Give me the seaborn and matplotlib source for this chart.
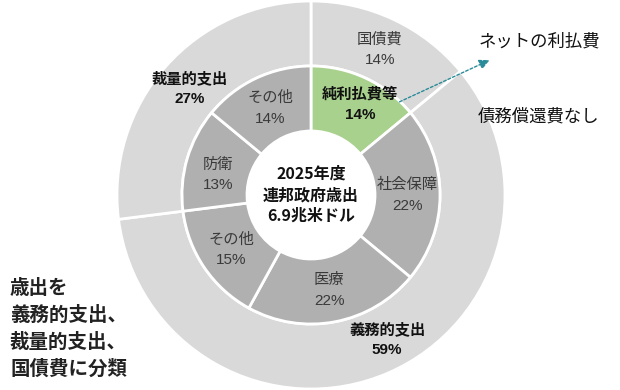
import numpy as np
import matplotlib
matplotlib.use("Agg")
import matplotlib.pyplot as plt
import seaborn as sns

sns.set_style("white")
plt.rcParams['font.family'] = ['Noto Sans CJK JP', 'DejaVu Sans']

# outer ring (clockwise from top)
outer_labels = ['国債費', '義務的支出', '裁量的支出']
outer_values = [14, 59, 27]
outer_bold = [False, True, True]

# inner ring (clockwise from top)
inner_labels = ['純利払費等', '社会保障', '医療', 'その他', '防衛', 'その他']
inner_values = [14, 22, 22, 15, 13, 14]
inner_bold = [True, False, False, False, False, False]

center_text = ['2025年度', '連邦政府歳出', '6.9兆米ドル']
side_text = ['歳出を', '義務的支出、', '裁量的支出、', '国債費に分類']

OUTER_C = '#d9d9d9'
INNER_C = '#b0b0b0'
GREEN = '#a9d18e'
TXT = '#3a3a3a'

cx, cy = 311, 195
r_out, r_mid, r_in = 194, 129, 64

fig = plt.figure(figsize=(6.2, 3.9), dpi=100)
ax = fig.add_axes([0, 0, 1, 1])

w_out, _ = ax.pie(outer_values, radius=r_out, center=(cx, cy), startangle=90,
                  counterclock=False, colors=[OUTER_C] * len(outer_values),
                  wedgeprops=dict(width=r_out - r_mid, edgecolor='white', linewidth=2))
w_in, _ = ax.pie(inner_values, radius=r_mid, center=(cx, cy), startangle=90,
                 counterclock=False, colors=[GREEN] + [INNER_C] * (len(inner_values) - 1),
                 wedgeprops=dict(width=r_mid - r_in, edgecolor='white', linewidth=2))

ax.set_xlim(0, 620)
ax.set_ylim(0, 390)
ax.set_aspect('equal')
ax.axis('off')

# small label nudges (px)
nudge_out = {1: (12, 4)}
nudge_in = {0: (8, 4), 4: (0, -6)}


def put_labels(wedges, labels, values, bold, rad, nudge):
    for i, (w, lab, v, b) in enumerate(zip(wedges, labels, values, bold)):
        mid = np.deg2rad((w.theta1 + w.theta2) / 2)
        dx, dy = nudge.get(i, (0, 0))
        x = cx + rad * np.cos(mid) + dx
        y = cy + rad * np.sin(mid) + dy
        fw = 'bold' if b else 'normal'
        col = '#111111' if b else TXT
        ax.text(x, y + 10, lab, ha='center', va='center', fontsize=11, fontweight=fw, color=col)
        ax.text(x, y - 11, f'{v}%', ha='center', va='center', fontsize=11, fontweight=fw, color=col,
                family=['Arial', 'Liberation Sans', 'DejaVu Sans'])


put_labels(w_out, outer_labels, outer_values, outer_bold, (r_out + r_mid) / 2, nudge_out)
put_labels(w_in, inner_labels, inner_values, inner_bold, (r_mid + r_in) / 2, nudge_in)

for k, t in enumerate(center_text):
    ax.text(cx, cy + 21 - 21 * k, t, ha='center', va='center', fontsize=11.5,
            fontweight='bold', color='#111111')

# annotation on the right
ax.annotate('', xy=(492, 390 - 59), xytext=(397, 390 - 103),
            arrowprops=dict(arrowstyle='-|>,head_length=0.6,head_width=0.3',
                            color='#2a8c99', linestyle=(0, (2, 1.5)), linewidth=1))
ax.text(539, 390 - 42, 'ネットの利払費', ha='center', va='center', fontsize=12.5, color='#111111')
ax.text(539, 390 - 117, '債務償還費なし', ha='center', va='center', fontsize=12.5, color='#111111')

for k, t in enumerate(side_text):
    ax.text(10, 390 - 288 - 27 * k, t, ha='left', va='center', fontsize=14,
            fontweight='bold', color='#222222')

fig.savefig('out.png', dpi=100)
